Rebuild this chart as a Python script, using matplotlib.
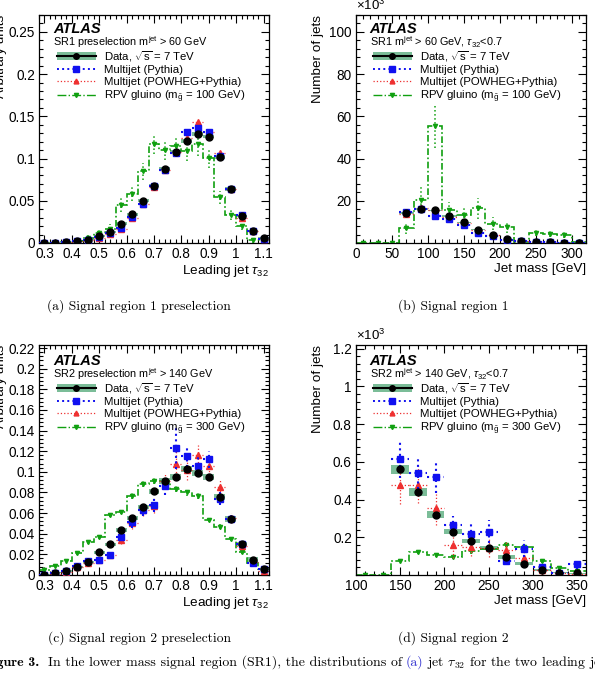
import numpy as np
import matplotlib
matplotlib.use("Agg")
import matplotlib.pyplot as plt
from matplotlib.lines import Line2D
from matplotlib.patches import Patch
from matplotlib.ticker import MultipleLocator, FuncFormatter

plt.rcParams["font.family"] = ["Liberation Sans", "DejaVu Sans"]
plt.rcParams["mathtext.fontset"] = "custom"
plt.rcParams["mathtext.rm"] = "Liberation Sans"
plt.rcParams["mathtext.it"] = "Liberation Sans:italic"
plt.rcParams["mathtext.bf"] = "Liberation Sans:bold"

# ---- (a) SR1 preselection, leading jet tau32 ----
tau_bins = [0.30, 0.34, 0.38, 0.42, 0.46, 0.50, 0.54, 0.58, 0.62, 0.66, 0.70,
            0.74, 0.78, 0.82, 0.86, 0.90, 0.94, 0.98, 1.02, 1.06, 1.10]
a_data = [0.0, 0.0, 0.001, 0.002, 0.004, 0.008, 0.013, 0.023, 0.034, 0.050, 0.068,
          0.088, 0.108, 0.121, 0.129, 0.126, 0.102, 0.064, 0.032, 0.014, 0.006]
a_data_band = [0.0, 0.0, 0.0005, 0.0005, 0.001, 0.001, 0.001, 0.0015, 0.0015, 0.002, 0.002,
               0.002, 0.002, 0.002, 0.002, 0.002, 0.002, 0.002, 0.0015, 0.001, 0.001]
a_pythia = [0.0, 0.0, 0.001, 0.002, 0.004, 0.007, 0.012, 0.018, 0.031, 0.046, 0.068,
            0.087, 0.107, 0.132, 0.136, 0.131, 0.103, 0.064, 0.033, 0.014, 0.005]
a_pythia_err = [0.0, 0.0, 0.0005, 0.001, 0.001, 0.001, 0.0015, 0.002, 0.002, 0.002, 0.002,
                0.002, 0.002, 0.003, 0.003, 0.003, 0.003, 0.002, 0.002, 0.001, 0.001]
a_powheg = [0.0, 0.0, 0.001, 0.002, 0.003, 0.006, 0.011, 0.017, 0.030, 0.046, 0.066,
            0.086, 0.108, 0.124, 0.143, 0.132, 0.106, 0.064, 0.030, 0.014, 0.005]
a_powheg_err = [0.0, 0.0, 0.0005, 0.001, 0.001, 0.001, 0.0015, 0.002, 0.002, 0.002, 0.002,
                0.002, 0.002, 0.003, 0.003, 0.003, 0.003, 0.002, 0.002, 0.001, 0.001]
a_gluino = [0.0, 0.0, 0.001, 0.002, 0.006, 0.012, 0.017, 0.045, 0.058, 0.085, 0.117,
            0.110, 0.115, 0.109, 0.117, 0.101, 0.054, 0.033, 0.020, 0.003, 0.003]
a_gluino_err = [0.0, 0.0, 0.001, 0.002, 0.003, 0.004, 0.005, 0.008, 0.008, 0.010, 0.012,
                0.012, 0.012, 0.012, 0.014, 0.012, 0.008, 0.006, 0.005, 0.003, 0.003]

# ---- (b) SR1, jet mass (x10^3 jets) ----
b_mass = [70, 90, 110, 130, 150, 170, 190, 210, 230, 250, 270, 290, 310]
b_data = [14.2, 16.0, 15.4, 12.9, 9.8, 6.3, 3.8, 1.9, 0.9, 0.5, 0.3, 0.2, 0.1]
b_data_band = [0.4, 0.4, 0.4, 0.35, 0.3, 0.25, 0.2, 0.1, 0.1, 0.05, 0.05, 0.05, 0.05]
b_pythia = [14.8, 16.2, 12.7, 11.2, 8.3, 4.7, 3.2, 1.6, 0.9, 0.4, 0.3, 0.2, 0.1]
b_pythia_err = [1.0, 1.0, 1.0, 0.9, 0.8, 0.6, 0.5, 0.3, 0.2, 0.1, 0.1, 0.1, 0.1]
b_powheg = [13.8, 16.5, 15.8, 12.5, 9.6, 6.1, 3.6, 1.5, 0.8, 0.4, 0.3, 0.2, 0.1]
b_powheg_err = [1.0, 1.0, 1.0, 0.9, 0.8, 0.6, 0.5, 0.3, 0.2, 0.1, 0.1, 0.1, 0.1]
b_gluino_mass = [10, 30, 50, 70, 90, 110, 130, 150, 170, 190, 210, 230, 250, 270, 290, 310]
b_gluino = [0, 0, 0, 6.9, 20.5, 55.3, 15.4, 13.4, 16.5, 9.1, 7.4, 0.3, 4.7, 4.4, 3.9, 0.3]
b_gluino_err = [0, 0, 0, 2.5, 6.5, 10.5, 4.0, 3.5, 5.0, 3.0, 2.5, 0.5, 1.5, 1.5, 1.5, 0.3]

# ---- (c) SR2 preselection, leading jet tau32 ----
c_data = [0.000, 0.002, 0.004, 0.008, 0.013, 0.022, 0.030, 0.044, 0.055, 0.066, 0.081,
          0.091, 0.095, 0.103, 0.099, 0.095, 0.076, 0.054, 0.030, 0.015, 0.006]
c_data_band = [0.0005, 0.0005, 0.001, 0.001, 0.001, 0.0015, 0.0015, 0.002, 0.002, 0.002, 0.002,
               0.003, 0.003, 0.003, 0.003, 0.003, 0.003, 0.003, 0.002, 0.002, 0.001]
c_pythia = [0.000, 0.002, 0.004, 0.009, 0.014, 0.015, 0.019, 0.037, 0.051, 0.063, 0.068,
            0.086, 0.123, 0.115, 0.106, 0.112, 0.074, 0.054, 0.030, 0.012, 0.006]
c_pythia_err = [0.001, 0.001, 0.002, 0.002, 0.002, 0.002, 0.003, 0.004, 0.005, 0.006, 0.007,
                0.008, 0.020, 0.010, 0.010, 0.008, 0.006, 0.004, 0.003, 0.002, 0.002]
c_powheg = [0.000, 0.001, 0.003, 0.008, 0.012, 0.015, 0.019, 0.034, 0.050, 0.063, 0.067,
            0.091, 0.108, 0.102, 0.116, 0.106, 0.085, 0.055, 0.028, 0.013, 0.004]
c_powheg_err = [0.001, 0.001, 0.002, 0.002, 0.002, 0.002, 0.003, 0.004, 0.005, 0.006, 0.007,
                0.008, 0.012, 0.010, 0.010, 0.009, 0.007, 0.005, 0.003, 0.002, 0.002]
c_gluino = [0.005, 0.009, 0.014, 0.021, 0.032, 0.037, 0.058, 0.061, 0.077, 0.088, 0.091,
            0.091, 0.083, 0.080, 0.077, 0.053, 0.047, 0.035, 0.022, 0.012, 0.006]
c_gluino_err = [0.001, 0.001, 0.001, 0.0015, 0.002, 0.002, 0.002, 0.002, 0.003, 0.003, 0.003,
                0.003, 0.003, 0.003, 0.003, 0.002, 0.002, 0.002, 0.0015, 0.001, 0.001]

# ---- (d) SR2, jet mass (x10^3 jets) ----
d_mass = [150, 170, 190, 210, 230, 250, 270, 290, 310, 330, 350]
d_data = [0.56, 0.44, 0.32, 0.23, 0.18, 0.145, 0.095, 0.06, 0.025, 0.012, 0.008]
d_data_band = [0.025, 0.02, 0.017, 0.015, 0.012, 0.01, 0.01, 0.008, 0.005, 0.003, 0.003]
d_pythia = [0.615, 0.54, 0.52, 0.265, 0.22, 0.23, 0.072, 0.14, 0.04, 0.01, 0.06]
d_pythia_err = [0.10, 0.085, 0.085, 0.05, 0.05, 0.06, 0.02, 0.045, 0.03, 0.01, 0.03]
d_powheg = [0.475, 0.48, 0.355, 0.16, 0.15, 0.145, 0.13, 0.09, 0.025, 0.01, 0.005]
d_powheg_err = [0.10, 0.10, 0.09, 0.07, 0.05, 0.05, 0.05, 0.04, 0.02, 0.01, 0.005]
d_gluino_mass = [110, 130, 150, 170, 190, 210, 230, 250, 270, 290, 310, 330, 350]
d_gluino = [0, 0, 0.075, 0.12, 0.105, 0.095, 0.125, 0.14, 0.16, 0.15, 0.075, 0.035, 0.02]
d_gluino_err = [0, 0, 0.008, 0.01, 0.01, 0.01, 0.012, 0.012, 0.014, 0.014, 0.01, 0.008, 0.006]

BAND = "#7bbd98"
BLUE = "#1010f0"
RED = "#ee3030"
GREEN = "#10a010"

W, H = 595, 675
fig = plt.figure(figsize=(W / 100, H / 100), dpi=100)


def panel(rect, x, data, band, pyt, pyt_err, pow_, pow_err, gx, glu, glu_err, width):
    ax = fig.add_axes(rect)
    x = np.asarray(x, float)
    gx = np.asarray(gx, float)
    edges = np.append(gx - width / 2, gx[-1] + width / 2)

    ax.bar(x, 2 * np.asarray(band), bottom=np.asarray(data) - np.asarray(band), width=width,
           color=BAND, lw=0, zorder=1)
    ax.stairs(glu, edges, baseline=None, color=GREEN, ls=(0, (4, 1.5, 1, 1.5)), lw=1.2, zorder=2)
    g = ax.errorbar(gx, glu, yerr=glu_err, fmt="v", ms=3, color=GREEN, elinewidth=1.1,
                    capsize=0, zorder=2)
    g[2][0].set_linestyle(":")
    r = ax.errorbar(x, pow_, xerr=width / 2, yerr=pow_err, fmt="^", ms=4, color=RED,
                    elinewidth=0.9, capsize=0, zorder=3)
    r[2][0].set_linestyle(":")
    r[2][1].set_linestyle(":")
    b = ax.errorbar(x, pyt, xerr=width / 2, yerr=pyt_err, fmt="s", ms=4.5, color=BLUE,
                    elinewidth=1.5, capsize=0, zorder=4)
    b[2][0].set_linestyle(":")
    b[2][1].set_linestyle(":")
    ax.errorbar(x, data, fmt="o", ms=5, color="black", zorder=5)

    ax.tick_params(which="both", direction="in", top=True, right=True, labelsize=9.8,
                   width=0.8, pad=3)
    ax.tick_params(which="major", length=6)
    ax.tick_params(which="minor", length=3)
    for s in ax.spines.values():
        s.set_linewidth(0.9)
    return ax


def legend(ax, bx, by, title, mass):
    ax.text(bx - 0.015, by + 0.088, "ATLAS", transform=ax.transAxes, fontsize=10.5,
            fontweight="bold", fontstyle="italic", va="center")
    ax.text(bx - 0.015, by + 0.03, title, transform=ax.transAxes, fontsize=7.8, va="center")
    handles = [
        (Patch(facecolor=BAND, edgecolor="none"),
         Line2D([], [], color="black", marker="o", ms=4, lw=1.5)),
        Line2D([], [], color=BLUE, ls=":", marker="s", ms=4, lw=1.4),
        Line2D([], [], color=RED, ls=":", marker="^", ms=3.5, lw=0.9),
        Line2D([], [], color=GREEN, ls="-.", marker="v", ms=3, lw=1.0),
    ]
    labels = [r"Data, $\sqrt{\mathrm{s}}$ = 7 TeV", "Multijet (Pythia)",
              "Multijet (POWHEG+Pythia)",
              r"RPV gluino ($\mathrm{m}_{\tilde{\mathrm{g}}}$ = %d GeV)" % mass]
    ax.legend(handles, labels, loc="upper left", bbox_to_anchor=(bx, by), frameon=False,
              fontsize=8.2, handlelength=3.4, handletextpad=0.75, labelspacing=0.13,
              borderpad=0, borderaxespad=0, numpoints=1)


fmt = FuncFormatter(lambda v, p: "%g" % round(v, 4))
fmt_nozero = FuncFormatter(lambda v, p: "" if abs(v) < 1e-9 else "%g" % round(v, 4))

aw, ah = 230 / W, 228 / H
ax_a = panel([39 / W, 1 - 243 / H, aw, ah], tau_bins, a_data, a_data_band, a_pythia,
             a_pythia_err, a_powheg, a_powheg_err, tau_bins, a_gluino, a_gluino_err, 0.04)
ax_b = panel([356 / W, 1 - 243 / H, aw, ah], b_mass, b_data, b_data_band, b_pythia,
             b_pythia_err, b_powheg, b_powheg_err, b_gluino_mass, b_gluino, b_gluino_err, 20)
ah2 = 230 / H
ax_c = panel([39 / W, 1 - 575 / H, aw, ah2], tau_bins, c_data, c_data_band, c_pythia,
             c_pythia_err, c_powheg, c_powheg_err, tau_bins, c_gluino, c_gluino_err, 0.04)
ax_d = panel([356 / W, 1 - 575 / H, aw, ah2], d_mass, d_data, d_data_band, d_pythia,
             d_pythia_err, d_powheg, d_powheg_err, d_gluino_mass, d_gluino, d_gluino_err, 20)

for ax in (ax_a, ax_c):
    ax.set_xlim(0.28, 1.12)
    ax.xaxis.set_major_locator(MultipleLocator(0.1))
    ax.xaxis.set_minor_locator(MultipleLocator(0.02))
    ax.xaxis.set_major_formatter(fmt)
    ax.yaxis.set_major_formatter(fmt)
    ax.set_xlabel(r"Leading jet $\tau_{32}$", fontsize=9.7, loc="right")
    ax.set_ylabel("Arbitrary units", fontsize=9.7, loc="top")
ax_a.set_ylim(0, 0.27)
ax_a.yaxis.set_major_locator(MultipleLocator(0.05))
ax_a.yaxis.set_minor_locator(MultipleLocator(0.01))
ax_c.set_ylim(0, 0.223)
ax_c.yaxis.set_major_locator(MultipleLocator(0.02))
ax_c.yaxis.set_minor_locator(MultipleLocator(0.004))

ax_b.set_xlim(0, 320)
ax_b.set_ylim(0, 108)
ax_b.yaxis.set_major_locator(MultipleLocator(20))
ax_b.yaxis.set_minor_locator(MultipleLocator(4))
ax_d.set_xlim(100, 360)
ax_d.set_ylim(0, 1.22)
ax_d.yaxis.set_major_locator(MultipleLocator(0.2))
ax_d.yaxis.set_minor_locator(MultipleLocator(0.04))
for ax in (ax_b, ax_d):
    ax.xaxis.set_major_locator(MultipleLocator(50))
    ax.xaxis.set_minor_locator(MultipleLocator(10))
    ax.xaxis.set_major_formatter(fmt)
    ax.yaxis.set_major_formatter(fmt_nozero)
    ax.set_xlabel("Jet mass [GeV]", fontsize=9.7, loc="right")
    ax.set_ylabel("Number of jets", fontsize=9.7, loc="top")
    ax.text(0.0, 1.008, r"$\times10^{3}$", transform=ax.transAxes, fontsize=9.5,
            va="bottom", ha="left")

for ax in (ax_a, ax_b, ax_c, ax_d):
    ax.yaxis.set_label_coords(-0.14, 1.0)
    ax.xaxis.set_label_coords(1.0, -0.088)

legend(ax_a, 0.078, 0.85, r"SR1 preselection $\mathrm{m}^{\mathrm{jet}}$ > 60 GeV", 100)
legend(ax_b, 0.074, 0.85, r"SR1 $\mathrm{m}^{\mathrm{jet}}$ > 60 GeV, $\tau_{32}$<0.7", 100)
legend(ax_c, 0.078, 0.843, r"SR2 preselection $\mathrm{m}^{\mathrm{jet}}$ > 140 GeV", 300)
legend(ax_d, 0.074, 0.843, r"SR2 $\mathrm{m}^{\mathrm{jet}}$ > 140 GeV, $\tau_{32}$<0.7", 300)

# sub-figure captions
cap = dict(ha="center", va="center", fontfamily="cmr10", fontsize=9.7, math_fontfamily="cm")
fig.text(139 / W, 1 - 306 / H, "(a) Signal region 1 preselection", **cap)
fig.text(453 / W, 1 - 306 / H, "(b) Signal region 1", **cap)
fig.text(139 / W, 1 - 638 / H, "(c) Signal region 2 preselection", **cap)
fig.text(453 / W, 1 - 638 / H, "(d) Signal region 2", **cap)

# running figure caption, cut by the page edges
ybase = 1 - 666 / H
fig.text(39 / W, ybase, "Figure 3.", ha="right", va="baseline", fontfamily="cmb10", fontsize=10)
pieces = [("In the lower mass signal region (SR1), the distributions of", "black"),
          ("(a)", "#3030d0"),
          (r"jet $\tau_{32}$ for the two leading jets in each event", "black")]
fig.canvas.draw()
renderer = fig.canvas.get_renderer()
xpix = 48
for txt, col in pieces:
    t = fig.text(xpix / W, ybase, txt, ha="left", va="baseline", color=col,
                 fontfamily="cmr10", fontsize=10, math_fontfamily="cm")
    xpix = t.get_window_extent(renderer).x1 + 3.8

fig.savefig("out.png", dpi=100)
